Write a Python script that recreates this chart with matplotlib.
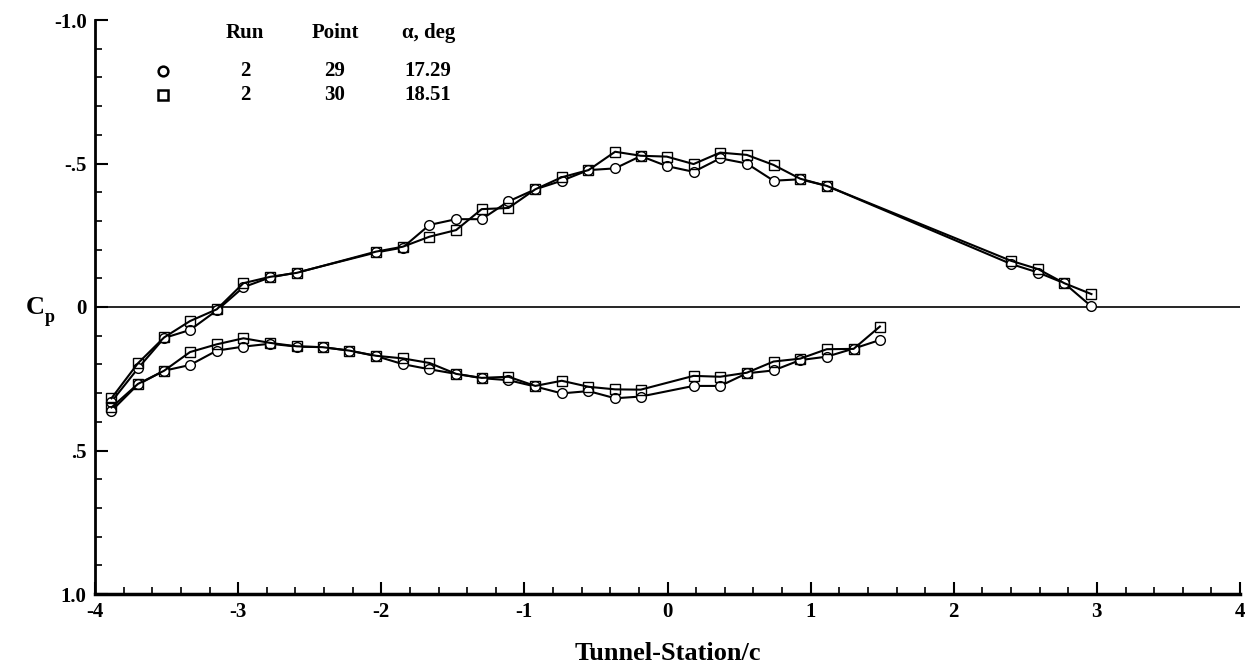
import numpy as np
import matplotlib
matplotlib.use("Agg")
import matplotlib.pyplot as plt
from matplotlib.ticker import MultipleLocator, FixedLocator

plt.rcParams['font.family'] = ['Liberation Serif', 'DejaVu Serif']
plt.rcParams['font.weight'] = 'bold'

# upper surface stations / Cp
x_up = [-3.885, -3.70, -3.517, -3.336, -3.149, -2.963, -2.777, -2.59,
        -2.036, -1.85, -1.663, -1.477, -1.298, -1.111, -0.924, -0.739,
        -0.552, -0.366, -0.187, -0.005, 0.182, 0.368, 0.554, 0.741,
        0.927, 1.113, 2.40, 2.59, 2.772, 2.962]
cp_up_29 = [0.33, 0.214, 0.108, 0.08, 0.012, -0.069, -0.103, -0.12,
            -0.19, -0.207, -0.286, -0.306, -0.306, -0.368, -0.41, -0.44,
            -0.477, -0.483, -0.526, -0.491, -0.471, -0.518, -0.50, -0.44,
            -0.445, -0.422, -0.15, -0.12, -0.083, -0.002]
cp_up_30 = [0.318, 0.196, 0.106, 0.049, 0.008, -0.083, -0.105, -0.119,
            -0.193, -0.21, -0.245, -0.268, -0.341, -0.345, -0.41, -0.452,
            -0.477, -0.541, -0.527, -0.524, -0.498, -0.538, -0.53, -0.495,
            -0.447, -0.422, -0.161, -0.132, -0.083, -0.045]

# lower surface
x_lo = [-3.885, -3.70, -3.517, -3.336, -3.149, -2.963, -2.777, -2.59,
        -2.409, -2.222, -2.036, -1.85, -1.663, -1.477, -1.298, -1.111,
        -0.924, -0.739, -0.552, -0.366, -0.187, 0.182, 0.368, 0.554,
        0.741, 0.927, 1.113, 1.30, 1.484]
cp_lo_29 = [0.362, 0.27, 0.222, 0.202, 0.152, 0.138, 0.128, 0.138,
            0.14, 0.152, 0.171, 0.199, 0.217, 0.233, 0.248, 0.255,
            0.277, 0.301, 0.293, 0.318, 0.312, 0.275, 0.275, 0.231,
            0.221, 0.185, 0.173, 0.145, 0.115]
cp_lo_30 = [0.35, 0.268, 0.222, 0.157, 0.13, 0.109, 0.125, 0.137,
            0.14, 0.152, 0.17, 0.179, 0.195, 0.233, 0.247, 0.243,
            0.275, 0.257, 0.278, 0.287, 0.288, 0.24, 0.243, 0.229,
            0.19, 0.18, 0.147, 0.146, 0.068]

runs = ["2", "2"]
points = ["29", "30"]
alphas = ["17.29", "18.51"]
xticks = [-4, -3, -2, -1, 0, 1, 2, 3, 4]
yticks = [-1.0, -0.5, 0, 0.5, 1.0]
yticklabels = ["-1.0", "-.5", "0", ".5", "1.0"]

fig = plt.figure(figsize=(12.54, 6.71), dpi=100)
ax = fig.add_axes([95/1254, 1-594/671, 1145/1254, 574/671])

ms = 7
for xs, ys in [(x_up, cp_up_29), (x_lo, cp_lo_29)]:
    ax.plot(xs, ys, color='black', lw=1.5, marker='o', ms=ms,
            mfc='white', mec='black', mew=1.0, zorder=3)
for xs, ys in [(x_up, cp_up_30), (x_lo, cp_lo_30)]:
    ax.plot(xs, ys, color='black', lw=1.5, marker='s', ms=ms - 0.5,
            mfc='none', mec='black', mew=1.0, zorder=4)

ax.axhline(0, color='black', lw=1.2, zorder=2)

ax.set_xlim(-4, 4)
ax.set_ylim(1.0, -1.0)
ax.xaxis.set_major_locator(FixedLocator(xticks))
ax.xaxis.set_minor_locator(MultipleLocator(0.2))
ax.yaxis.set_major_locator(FixedLocator(yticks))
ax.yaxis.set_minor_locator(MultipleLocator(0.1))
ax.set_yticklabels(yticklabels)
ax.set_xticklabels([str(t) for t in xticks])

for s in ['top', 'right']:
    ax.spines[s].set_visible(False)
ax.spines['left'].set_linewidth(2.0)
ax.spines['bottom'].set_linewidth(2.5)
ax.tick_params(which='major', direction='in', length=9, width=1.5,
               labelsize=15, pad=6)
ax.tick_params(which='minor', direction='in', length=5, width=1.2)

ax.set_xlabel("Tunnel-Station/c", fontsize=19, fontweight='bold', labelpad=14)
fig.text(35/1254, 1-307/671, "C", fontsize=19, fontweight='bold',
         ha='center', va='center')
fig.text(50/1254, 1-318/671, "p", fontsize=13, fontweight='bold',
         ha='center', va='center')

# legend table
hy = 0.977
ax.text(0.131, hy, "Run", transform=ax.transAxes, ha='center', va='center', fontsize=15)
ax.text(0.2096, hy, "Point", transform=ax.transAxes, ha='center', va='center', fontsize=15)
ax.text(0.291, hy, "\u03b1, deg", transform=ax.transAxes, ha='center', va='center', fontsize=15)
rows_y = [0.912, 0.869]
marks = ['o', 's']
for i in range(2):
    ax.plot([0.0594], [rows_y[i]], marker=marks[i], ms=7, mfc='white', mec='black',
            mew=1.8, transform=ax.transAxes, clip_on=False)
    ax.text(0.131, rows_y[i], runs[i], transform=ax.transAxes, ha='center', va='center', fontsize=15)
    ax.text(0.2096, rows_y[i], points[i], transform=ax.transAxes, ha='center', va='center', fontsize=15)
    ax.text(0.291, rows_y[i], alphas[i], transform=ax.transAxes, ha='center', va='center', fontsize=15)

fig.savefig("out.png", dpi=100)
